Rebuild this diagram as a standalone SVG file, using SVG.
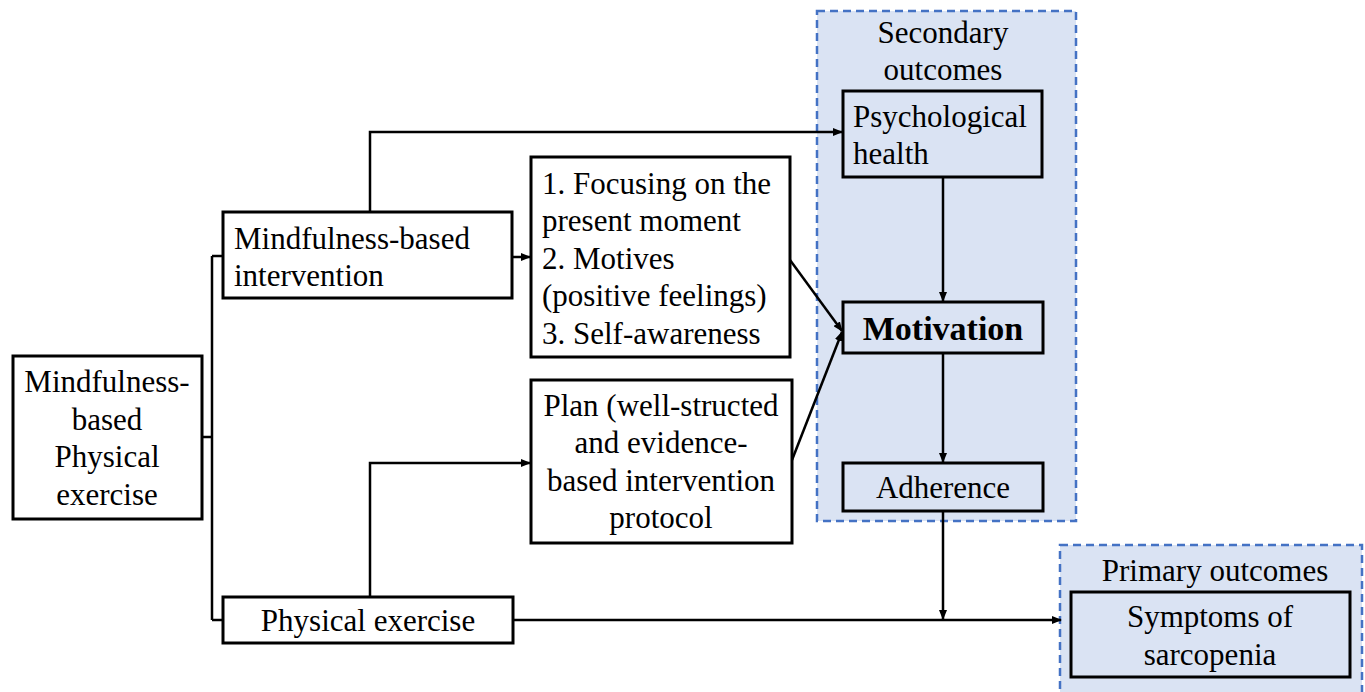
<svg xmlns="http://www.w3.org/2000/svg" width="1365" height="692" viewBox="0 0 1365 692">
<defs>
<style>
text{font-family:'Liberation Serif','DejaVu Serif',serif;font-size:31px;fill:#000}
.c{text-anchor:middle}
.b{fill:#fff;stroke:#000;stroke-width:3}
.bb{fill:none;stroke:#000;stroke-width:3}
.grp{fill:#dae3f3;stroke:#4472c4;stroke-width:2.5;stroke-dasharray:8 5}
.ln{fill:none;stroke:#000;stroke-width:2.5}
</style>
<marker id="ah" markerWidth="10" markerHeight="8" refX="9" refY="4" orient="auto" markerUnits="userSpaceOnUse">
<path d="M0,0 L10,4 L0,8 Z" fill="#000"/>
</marker>
</defs>
<rect width="1365" height="692" fill="#fff"/>
<g id="secondary-group">
<rect class="grp" x="817" y="11" width="259" height="510"/>
<text class="c" x="943" y="43">Secondary</text>
<text class="c" x="943" y="80">outcomes</text>
</g>
<g id="primary-group">
<rect class="grp" x="1060" y="545" width="302" height="160"/>
<text class="c" x="1215" y="581">Primary outcomes</text>
</g>
<g id="connectors">
<polyline class="ln" points="212,256 212,620"/>
<line class="ln" x1="212" y1="256" x2="223" y2="256"/>
<line class="ln" x1="212" y1="620" x2="223" y2="620"/>
<line class="ln" x1="202" y1="437" x2="212" y2="437"/>
<line class="ln" x1="512" y1="257" x2="530" y2="257" marker-end="url(#ah)"/>
<polyline class="ln" points="370,212 370,132 842,132" marker-end="url(#ah)"/>
<polyline class="ln" points="370,597 370,463 530,463" marker-end="url(#ah)"/>
<line class="ln" x1="790" y1="260" x2="842" y2="331" marker-end="url(#ah)"/>
<line class="ln" x1="792" y1="460" x2="842" y2="332" marker-end="url(#ah)"/>
<line class="ln" x1="943" y1="177" x2="943" y2="301" marker-end="url(#ah)"/>
<line class="ln" x1="943" y1="353" x2="943" y2="462" marker-end="url(#ah)"/>
<line class="ln" x1="943" y1="511" x2="943" y2="619" marker-end="url(#ah)"/>
<line class="ln" x1="513" y1="620" x2="1061" y2="620" marker-end="url(#ah)"/>
</g>
<g id="mbpe">
<rect class="b" x="13" y="356" width="189" height="163"/>
<text class="c" x="107" y="392">Mindfulness-</text>
<text class="c" x="107" y="430">based</text>
<text class="c" x="107" y="467">Physical</text>
<text class="c" x="107" y="505">exercise</text>
</g>
<g id="mbi">
<rect class="b" x="223" y="212" width="289" height="86"/>
<text x="234" y="249">Mindfulness-based</text>
<text x="234" y="286">intervention</text>
</g>
<g id="pe">
<rect class="b" x="223" y="597" width="290" height="46"/>
<text class="c" x="368" y="631">Physical exercise</text>
</g>
<g id="mechanisms">
<rect class="b" x="531" y="157" width="259" height="200"/>
<text x="542" y="194">1. Focusing on the</text>
<text x="542" y="231">present moment</text>
<text x="542" y="269">2. Motives</text>
<text x="542" y="306">(positive feelings)</text>
<text x="542" y="344">3. Self-awareness</text>
</g>
<g id="plan">
<rect class="b" x="531" y="380" width="261" height="163"/>
<text class="c" x="661" y="416">Plan (well-structed</text>
<text class="c" x="661" y="453">and evidence-</text>
<text class="c" x="661" y="491">based intervention</text>
<text class="c" x="661" y="528">protocol</text>
</g>
<g id="psych">
<rect class="bb" x="843" y="91" width="199" height="86"/>
<text x="853" y="127">Psychological</text>
<text x="853" y="164">health</text>
</g>
<g id="motivation">
<rect class="bb" x="843" y="302" width="200" height="51"/>
<text class="c" x="943" y="340" font-weight="bold" style="font-size:34px">Motivation</text>
</g>
<g id="adherence">
<rect class="bb" x="843" y="463" width="200" height="48"/>
<text class="c" x="943" y="498">Adherence</text>
</g>
<g id="symptoms">
<rect class="bb" x="1071" y="592" width="279" height="85"/>
<text class="c" x="1210" y="627">Symptoms of</text>
<text class="c" x="1210" y="665">sarcopenia</text>
</g>
</svg>
